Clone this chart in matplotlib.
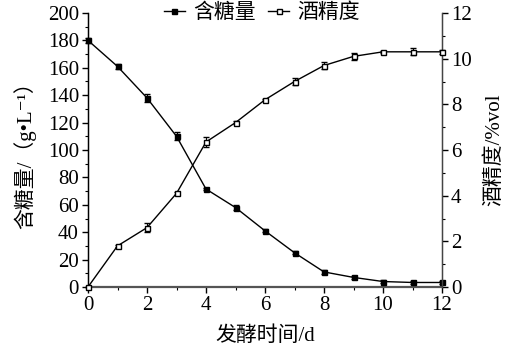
import numpy as np
import matplotlib
matplotlib.use("Agg")
import matplotlib.pyplot as plt
from matplotlib.ticker import MultipleLocator
from matplotlib.lines import Line2D

plt.rcParams['font.family'] = ['Liberation Serif', 'Noto Sans CJK SC', 'DejaVu Sans']

# data
days = [0, 1, 2, 3, 4, 5, 6, 7, 8, 9, 10, 11, 12]
sugar = [180, 161, 138, 110, 71.5, 58, 41, 25, 11, 7, 4, 3.3, 3.3]
sugar_err = [2, 2, 3, 3, 1, 1.5, 1, 1, 1.5, 1, 0.8, 0.8, 0.8]
alcohol = [0, 1.8, 2.6, 4.1, 6.35, 7.2, 8.2, 9.0, 9.7, 10.1, 10.3, 10.3, 10.3]
alcohol_err = [0, 0.05, 0.2, 0.05, 0.2, 0.05, 0.05, 0.15, 0.15, 0.15, 0.05, 0.15, 0.1]

fig = plt.figure(figsize=(5.08, 3.57), dpi=100)
ax = fig.add_axes([88/508, 70/357, 354/508, 274/357])
ax2 = ax.twinx()

fs = 15
ms = 3.6
ax.errorbar(days, sugar, yerr=sugar_err, color='black', marker='s', ms=ms,
            mfc='black', lw=1, capsize=2.3, elinewidth=0.8, clip_on=False, zorder=3)
ax2.errorbar(days, alcohol, yerr=alcohol_err, color='black', marker='s', ms=ms,
             mfc='white', lw=1, capsize=2.3, elinewidth=0.8, clip_on=False, zorder=3)

ax.set_xlim(0, 12)
ax.set_ylim(0, 200)
ax2.set_ylim(0, 12)
ax.xaxis.set_major_locator(MultipleLocator(2))
ax.xaxis.set_minor_locator(MultipleLocator(1))
ax.yaxis.set_major_locator(MultipleLocator(20))
ax.yaxis.set_minor_locator(MultipleLocator(10))
ax2.yaxis.set_major_locator(MultipleLocator(2))
ax2.yaxis.set_minor_locator(MultipleLocator(1))

for a in (ax, ax2):
    a.spines['top'].set_visible(False)
    a.tick_params(which='major', direction='out', length=4.5, width=1, labelsize=fs, pad=2)
    a.tick_params(which='minor', direction='out', length=2.5, width=0.8)
ax.spines['bottom'].set_linewidth(1.6)
ax.spines['bottom'].set_color('#555555')
ax2.spines['bottom'].set_visible(False)
ax.spines['left'].set_linewidth(1)
ax2.spines['right'].set_linewidth(1)
ax2.spines['right'].set_color('#444444')

ax.set_xlabel('发酵时间/d', fontsize=fs, labelpad=8)
ax.set_ylabel('含糖量/（g•L⁻¹）', fontsize=fs, labelpad=8)
ax2.set_ylabel('酒精度/%vol', fontsize=fs, labelpad=9)

h1 = Line2D([], [], color='black', lw=1, marker='s', ms=ms, mfc='black')
h2 = Line2D([], [], color='black', lw=1, marker='s', ms=ms, mfc='white')
fig.legend([h1, h2], ['含糖量', '酒精度'], loc='center', bbox_to_anchor=(262/508, 1 - 13/357),
           ncol=2, frameon=False, fontsize=fs, handlelength=1.0, handletextpad=0.4,
           columnspacing=0.6, borderpad=0)

fig.savefig('out.png', dpi=100)
